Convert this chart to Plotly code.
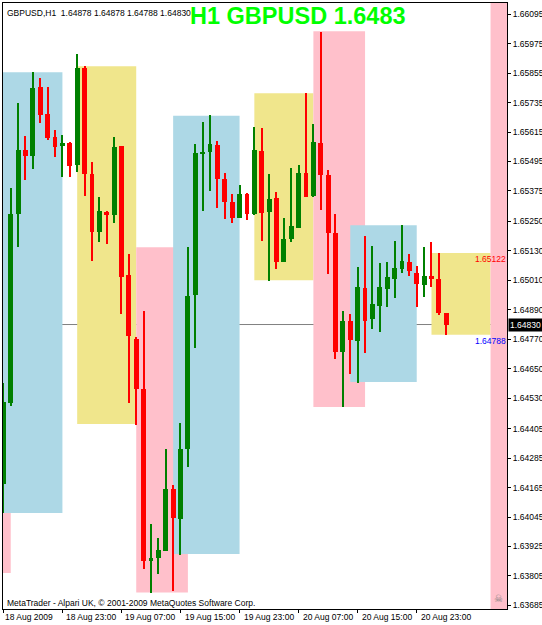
import plotly.graph_objects as go

symbol = "GBPUSD"
period = "H1"

opens = [1.64179, 1.64510, 1.65280, 1.65541, 1.65516, 1.65797, 1.65687, 1.65594, 1.65557, 1.65569,
         1.65480, 1.65875, 1.65443, 1.65207, 1.65288, 1.65276, 1.65557, 1.65031, 1.64770, 1.64567,
         1.63866, 1.63878, 1.63906, 1.64159, 1.64037, 1.64322, 1.64950, 1.65524, 1.65533, 1.65561,
         1.65422, 1.65329, 1.65264, 1.65361, 1.65280, 1.65537, 1.65288, 1.65345, 1.65084, 1.65178,
         1.65223, 1.65447, 1.65353, 1.65569, 1.65439, 1.65202, 1.64717, 1.64844, 1.64762, 1.64978,
         1.64852, 1.64905, 1.64974, 1.65015, 1.65056, 1.65084, 1.65039, 1.64991, 1.65027, 1.65015,
         1.64878]
highs = [1.64591, 1.65386, 1.65732, 1.65598, 1.65859, 1.65834, 1.65797, 1.65622, 1.65602, 1.65573,
         1.65932, 1.65883, 1.65492, 1.65349, 1.65292, 1.65594, 1.65557, 1.65117, 1.64779, 1.64885,
         1.64016, 1.63959, 1.64322, 1.64175, 1.64428, 1.65145, 1.65565, 1.65655, 1.65683, 1.65577,
         1.65447, 1.65361, 1.65398, 1.65365, 1.65634, 1.65630, 1.65443, 1.65370, 1.65264, 1.65467,
         1.65480, 1.65773, 1.65647, 1.66022, 1.65459, 1.65280, 1.64885, 1.64872, 1.65064, 1.65190,
         1.65149, 1.65080, 1.65084, 1.65170, 1.65235, 1.65117, 1.65068, 1.65145, 1.65166, 1.65122,
         1.64878]
lows = [1.64061, 1.64497, 1.65145, 1.65418, 1.65463, 1.65651, 1.65581, 1.65512, 1.65431, 1.65431,
        1.65451, 1.65353, 1.65088, 1.65166, 1.65158, 1.65243, 1.64872, 1.64510, 1.64420, 1.63833,
        1.63737, 1.63813, 1.63906, 1.63743, 1.63890, 1.64249, 1.64734, 1.65292, 1.65374, 1.65304,
        1.65259, 1.65243, 1.65264, 1.65255, 1.65276, 1.65170, 1.65007, 1.65056, 1.65084, 1.65166,
        1.65223, 1.65349, 1.65349, 1.65296, 1.65035, 1.64689, 1.64493, 1.64628, 1.64591, 1.64713,
        1.64811, 1.64799, 1.64901, 1.64938, 1.65039, 1.65027, 1.64901, 1.64942, 1.64982, 1.64870,
        1.64788]
closes = [1.64514, 1.65280, 1.65541, 1.65516, 1.65793, 1.65683, 1.65590, 1.65553, 1.65569, 1.65475,
          1.65875, 1.65443, 1.65207, 1.65292, 1.65276, 1.65553, 1.65023, 1.64783, 1.64567, 1.63866,
          1.63878, 1.63910, 1.64159, 1.64041, 1.64322, 1.64946, 1.65528, 1.65533, 1.65565, 1.65422,
          1.65329, 1.65264, 1.65361, 1.65280, 1.65541, 1.65284, 1.65341, 1.65084, 1.65178, 1.65231,
          1.65447, 1.65349, 1.65573, 1.65439, 1.65202, 1.64717, 1.64844, 1.64766, 1.64982, 1.64844,
          1.64913, 1.64982, 1.65023, 1.65060, 1.65088, 1.65048, 1.64995, 1.65027, 1.65015, 1.64878,
          1.64830]

time_tick_bars = [0, 8, 16, 24, 32, 40, 48, 56]
time_tick_labels = ["18 Aug 2009", "18 Aug 23:00", "19 Aug 07:00", "19 Aug 15:00",
                    "19 Aug 23:00", "20 Aug 07:00", "20 Aug 15:00", "20 Aug 23:00"]

price_ticks = [1.66095, 1.65975, 1.65855, 1.65735, 1.65615, 1.65495, 1.65375, 1.65250, 1.65130,
               1.65010, 1.64890, 1.64770, 1.64650, 1.64530, 1.64405, 1.64285, 1.64165, 1.64045,
               1.63925, 1.63805, 1.63685]

# session boxes (bar index start/end, high, low, session)
box_start = [-3, -1, 10, 18, 23, 34, 42, 47, 58, 66]
box_end = [1, 8, 18, 25, 32, 42, 49, 56, 66, 75]
box_high = [1.64061, 1.65859, 1.65883, 1.65145, 1.65681, 1.65773, 1.66026, 1.65235, 1.65122, 1.66300]
box_low = [1.63817, 1.64061, 1.64424, 1.63737, 1.63894, 1.65011, 1.64494, 1.64596, 1.64788, 1.63500]
box_session = ["asia", "europe", "america", "asia", "europe", "america", "asia", "europe", "america", "asia"]

session_colors = {"asia": "#FFC0CB", "europe": "#ADD8E6", "america": "#F0E68C"}
UP = "#008000"
DOWN = "#FF0000"
FONT = "Liberation Sans, Arial, sans-serif"
FS = 8.5

n = len(opens)
xs = list(range(n))
up_idx = [i for i in xs if closes[i] >= opens[i]]
dn_idx = [i for i in xs if closes[i] < opens[i]]
MINH = 0.00003


def body(idx):
    base = [min(opens[i], closes[i]) for i in idx]
    h = [max(abs(closes[i] - opens[i]), MINH) for i in idx]
    return base, h


fig = go.Figure()
for idx, col in ((up_idx, UP), (dn_idx, DOWN)):
    fig.add_trace(go.Bar(x=idx, base=[lows[i] for i in idx], y=[highs[i] - lows[i] for i in idx],
                         width=0.15, marker=dict(color=col, line=dict(width=0)), hoverinfo="skip",
                         showlegend=False))
for idx, col in ((up_idx, UP), (dn_idx, DOWN)):
    b, h = body(idx)
    fig.add_trace(go.Bar(x=idx, base=b, y=h, width=0.66,
                         marker=dict(color=col, line=dict(width=0)), showlegend=False))

shapes = []
for s, e, hi, lo, ses in zip(box_start, box_end, box_high, box_low, box_session):
    shapes.append(dict(type="rect", xref="x", yref="y", x0=s, x1=e, y0=lo, y1=hi,
                       fillcolor=session_colors[ses], line=dict(width=0), layer="below"))
shapes.append(dict(type="line", xref="paper", yref="y", x0=0, x1=1, y0=closes[-1], y1=closes[-1],
                   line=dict(color="#808080", width=1), layer="below"))

annotations = [
    dict(xref="paper", yref="paper", x=0.004, y=0.9955, xanchor="left", yanchor="top", showarrow=False,
         text=f"{symbol},{period}&nbsp;&nbsp;{opens[-1]:.5f} {highs[-1]:.5f} {lows[-1]:.5f} {closes[-1]:.5f}",
         font=dict(family=FONT, size=FS, color="black")),
    dict(xref="paper", yref="paper", x=0.585, y=0.978, xanchor="center", yanchor="middle", showarrow=False,
         text=f"<b>{period} {symbol} {closes[-1]:.4f}</b>",
         font=dict(family=FONT, size=23.5, color="#00FF00")),
    dict(xref="paper", yref="paper", x=0.004, y=0.01, xanchor="left", yanchor="middle", showarrow=False,
         text="MetaTrader - Alpari UK, © 2001-2009 MetaQuotes Software Corp.",
         font=dict(family=FONT, size=FS, color="black")),
    dict(xref="paper", yref="paper", x=0.983, y=0.018, xanchor="center", yanchor="middle", showarrow=False,
         text="☠", font=dict(family="DejaVu Sans", size=10, color="#808080")),
    dict(xref="paper", yref="y", x=1, y=box_high[8], xanchor="right", yanchor="top", showarrow=False,
         text=f"{box_high[8]:.5f}", font=dict(family=FONT, size=FS, color="#FF0000"), borderpad=0),
    dict(xref="paper", yref="y", x=1, y=box_low[8], xanchor="right", yanchor="top", showarrow=False,
         text=f"{box_low[8]:.5f}", font=dict(family=FONT, size=FS, color="#0000FF"), borderpad=0),
    dict(xref="paper", yref="y", x=1, y=closes[-1], xanchor="left", yanchor="middle", showarrow=False,
         text=f"{closes[-1]:.5f}", bgcolor="black", xshift=1, borderpad=1,
         font=dict(family=FONT, size=FS, color="white")),
]
for k, (b, lab) in enumerate(zip(time_tick_bars, time_tick_labels)):
    annotations.append(dict(xref="x", yref="paper", x=b, y=0, xanchor="left", yanchor="top",
                            showarrow=False, text=lab, xshift=0 if k == 0 else 2, yshift=-1,
                            font=dict(family=FONT, size=FS, color="black")))

fig.update_layout(
    width=542, height=625,
    margin=dict(l=3, r=35, t=3, b=16, autoexpand=False),
    paper_bgcolor="white", plot_bgcolor="white",
    barmode="overlay", bargap=0,
    showlegend=False,
    shapes=shapes, annotations=annotations,
    xaxis=dict(range=[-0.05, 68.23], showgrid=False, zeroline=False, showline=True, mirror=True,
               linecolor="black", linewidth=1, ticks="outside", ticklen=3, tickcolor="black",
               tickvals=time_tick_bars, showticklabels=False, fixedrange=True, automargin=False),
    yaxis=dict(range=[1.63670, 1.66141], side="right", showgrid=False, zeroline=False, showline=True,
               mirror=True, linecolor="black", linewidth=1, ticks="outside", ticklen=3,
               tickcolor="black", tickvals=price_ticks, ticktext=[f"{p:.5f}" for p in price_ticks],
               tickfont=dict(family=FONT, size=FS, color="black"), fixedrange=True, automargin=False),
)

fig.write_html("out.html", config={"displayModeBar": False})
